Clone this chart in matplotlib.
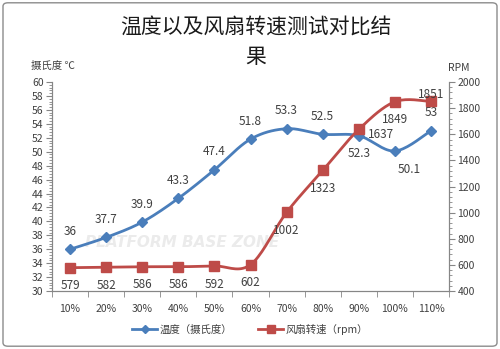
import numpy as np
import matplotlib
matplotlib.use("Agg")
import matplotlib.pyplot as plt
from matplotlib.patches import FancyBboxPatch
from matplotlib.ticker import MultipleLocator, FixedLocator
from matplotlib.lines import Line2D

plt.rcParams['font.family'] = ['Noto Sans CJK SC', 'DejaVu Sans']

categories = ['10%', '20%', '30%', '40%', '50%', '60%', '70%', '80%', '90%', '100%', '110%']
temperature = [36, 37.7, 39.9, 43.3, 47.4, 51.8, 53.3, 52.5, 52.3, 50.1, 53]
rpm = [579, 582, 586, 586, 592, 602, 1002, 1323, 1637, 1849, 1851]
temp_labels = ['36', '37.7', '39.9', '43.3', '47.4', '51.8', '53.3', '52.5', '52.3', '50.1', '53']
rpm_labels = ['579', '582', '586', '586', '592', '602', '1002', '1323', '1637', '1849', '1851']

BLUE = '#4A7EBB'
RED = '#BE4B48'
TXT = '#404040'
AX = '#868686'


def smooth(xs, ys, n=20, t=0.5):
    xs = np.asarray(xs, float); ys = np.asarray(ys, float)
    px = np.concatenate([[xs[0]], xs, [xs[-1]]])
    py = np.concatenate([[ys[0]], ys, [ys[-1]]])
    ox, oy = [], []
    for i in range(1, len(px) - 2):
        p0, p1, p2, p3 = (np.array([px[j], py[j]]) for j in (i - 1, i, i + 1, i + 2))
        c1 = p1 + (p2 - p0) * t / 3
        c2 = p2 - (p3 - p1) * t / 3
        s = np.linspace(0, 1, n)[:, None]
        b = (1 - s) ** 3 * p1 + 3 * (1 - s) ** 2 * s * c1 + 3 * (1 - s) * s ** 2 * c2 + s ** 3 * p2
        ox.extend(b[:, 0]); oy.extend(b[:, 1])
    return np.array(ox), np.array(oy)


fig = plt.figure(figsize=(5.0, 3.49), dpi=100)
fig.patches.append(FancyBboxPatch((0.006, 0.008), 0.988, 0.984, boxstyle='round,pad=0,rounding_size=0.01',
                                  transform=fig.transFigure, fill=False, edgecolor='#8c8c8c', lw=1.0))

# faint watermark in a background axes
bg = fig.add_axes([0, 0, 1, 1], zorder=-1)
bg.axis('off')
bg.text(0.365, 0.305, 'PLATFORM BASE ZONE', fontsize=11, color='#ebebeb', ha='center', va='center',
        fontweight='bold', family='DejaVu Sans', style='italic')

ax = fig.add_axes([0.104, 0.166, 0.794, 0.599])
ax2 = ax.twinx()

x = np.arange(len(categories))

sx, sy = smooth(x, temperature)
ax.plot(sx, sy, color=BLUE, lw=2, zorder=3)
ax.plot(x, temperature, ls='none', marker='D', ms=5, color=BLUE, zorder=4)

rx, ry = smooth(x, rpm)
ax2.plot(rx, ry, color=RED, lw=2, zorder=3)
ax2.plot(x, rpm, ls='none', marker='s', ms=7, color=RED, zorder=4)

ax.set_xlim(-0.5, len(categories) - 0.5)
ax.set_ylim(30, 60)
ax2.set_ylim(400, 2000)
ax.yaxis.set_major_locator(MultipleLocator(2))
ax.yaxis.set_minor_locator(MultipleLocator(0.4))
ax2.yaxis.set_major_locator(MultipleLocator(200))
ax2.yaxis.set_minor_locator(MultipleLocator(40))

ax.set_xticks(x)
ax.set_xticklabels(categories)
ax.xaxis.set_minor_locator(FixedLocator(np.arange(-0.5, len(categories), 1)))
ax.tick_params(axis='x', which='major', length=0, labelsize=7.5, labelcolor=TXT, pad=9)
ax.tick_params(axis='x', which='minor', length=4, color=AX)
ax.tick_params(axis='y', which='major', length=4, color=AX, labelsize=7.5, labelcolor=TXT, pad=2)
ax.tick_params(axis='y', which='minor', length=2, color=AX)
ax2.tick_params(axis='y', which='major', length=4, color=AX, labelsize=7.5, labelcolor=TXT, pad=2)
ax2.tick_params(axis='y', which='minor', length=2, color=AX)

for a in (ax, ax2):
    a.spines['top'].set_visible(False)
    for s in ('left', 'right', 'bottom'):
        a.spines[s].set_color(AX)
        a.spines[s].set_linewidth(0.8)
    a.patch.set_visible(False)

# data labels
toff = {8: (0, -13), 9: (10, -13)}
for i, (v, l) in enumerate(zip(temperature, temp_labels)):
    dx, dy = toff.get(i, (0, 13))
    ax.annotate(l, (x[i], v), xytext=(dx, dy), textcoords='offset points', ha='center', va='center',
                fontsize=8.5, color=TXT, zorder=5)
roff = {8: (16, -4), 10: (0, 5)}
for i, (v, l) in enumerate(zip(rpm, rpm_labels)):
    dx, dy = roff.get(i, (0, -13))
    ax2.annotate(l, (x[i], v), xytext=(dx, dy), textcoords='offset points', ha='center', va='center',
                 fontsize=8.5, color=TXT, zorder=5)

fig.text(0.512, 0.925, '温度以及风扇转速测试对比结', fontsize=15, ha='center', va='center', color='#1a1a1a')
fig.text(0.512, 0.838, '果', fontsize=15, ha='center', va='center', color='#1a1a1a')
fig.text(0.062, 0.81, '摄氏度 ℃', fontsize=7.5, ha='left', va='center', color=TXT)
fig.text(0.918, 0.805, 'RPM', fontsize=7.5, ha='center', va='center', color=TXT)

handles = [Line2D([], [], color=BLUE, lw=2, marker='D', ms=4),
           Line2D([], [], color=RED, lw=2, marker='s', ms=6)]
fig.legend(handles, ['温度（摄氏度）', '风扇转速（rpm）'], loc='center', bbox_to_anchor=(0.5, 0.057),
           ncol=2, frameon=False, fontsize=7.5, handlelength=2.4, columnspacing=2.5, labelcolor=TXT,
           handletextpad=0.2)

fig.savefig('out.png', dpi=100)
